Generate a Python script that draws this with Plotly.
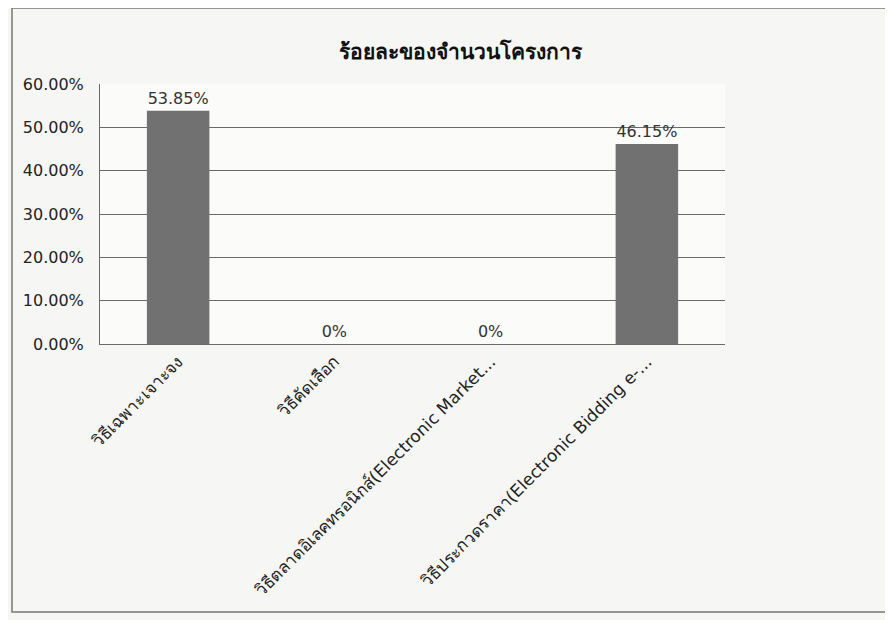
import plotly.graph_objects as go

categories = [
    "วิธีเฉพาะเจาะจง",
    "วิธีคัดเลือก",
    "วิธีตลาดอิเลคทรอนิกส์(Electronic Market...",
    "วิธีประกวดราคา(Electronic Bidding e-...",
]
values = [0.5385, 0.0, 0.0, 0.4615]
labels = ["53.85%", "0%", "0%", "46.15%"]
y_ticks = [0, 0.1, 0.2, 0.3, 0.4, 0.5, 0.6]

font_family = "Tahoma, DejaVu Sans, Noto Sans, sans-serif"

L, R, T, B = 92, 176, 76, 284
W = 893 - L - R
H = 620 - T - B

fig = go.Figure(
    go.Bar(
        x=categories,
        y=values,
        text=labels,
        textposition="outside",
        textfont=dict(size=16, color="#333333"),
        marker=dict(color="#717171", line=dict(width=0)),
        cliponaxis=False,
    )
)

fig.update_layout(
    width=893,
    height=620,
    margin=dict(l=L, r=R, t=T, b=B),
    paper_bgcolor="#f6f6f4",
    plot_bgcolor="#fbfbfa",
    bargap=0.6,
    showlegend=False,
    font=dict(family=font_family, color="#222222"),
    title=dict(
        text="<b>ร้อยละของจำนวนโครงการ</b>",
        x=(460 - 8) / 893,
        xanchor="center",
        y=1 - 44 / 620,
        yanchor="middle",
        font=dict(size=21, color="#111111"),
    ),
)

fig.update_yaxes(
    range=[0, 0.6],
    tickvals=y_ticks,
    tickformat=".2%",
    tickfont=dict(size=16, color="#222222"),
    showgrid=True,
    gridcolor="#6a6a6a",
    gridwidth=1,
    zeroline=False,
    showline=True,
    linecolor="#6a6a6a",
    ticks="",
    ticklabelstandoff=12,
)
fig.update_xaxes(
    tickangle=-45,
    tickfont=dict(size=17, color="#222222"),
    showline=True,
    linecolor="#6a6a6a",
    ticks="",
)

# outer chart frame
fig.add_shape(type="rect", xref="paper", yref="paper",
              x0=(4 - L) / W, x1=(893 - L) / W, y0=-(604 - (620 - B)) / H, y1=(620 - B) / H,
              line=dict(color="#777777", width=1.5), fillcolor="rgba(0,0,0,0)", layer="below")

fig.write_html("out.html")
